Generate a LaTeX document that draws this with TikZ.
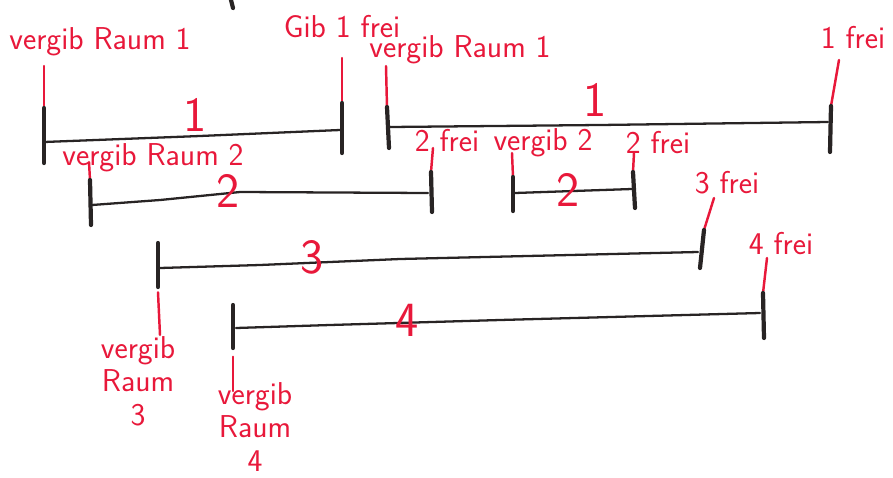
\documentclass[tikz,border=0pt]{standalone}
\usepackage{fontspec}
\definecolor{stiftrot}{RGB}{232,24,58}
\definecolor{stiftschwarz}{RGB}{40,36,36}
\tikzset{
  balken/.style={line width=1.3pt, stiftschwarz, line cap=round},
  strich/.style={line width=2.4pt, stiftschwarz, line cap=round},
  rotstrich/.style={line width=1.4pt, stiftrot, line cap=round},
  notiz/.style={text=stiftrot, font=\sffamily\fontsize{18}{19}\selectfont, inner sep=1pt, align=center},
  ziffer/.style={text=stiftrot, font=\sffamily\fontsize{28}{28}\selectfont, inner sep=0pt}
}
\begin{document}
\begin{tikzpicture}[x=0.02cm,y=-0.02cm]
\useasboundingbox (0,0) rectangle (893,477);

\draw[strich] (231,0) -- (233,8);

% Raum 1 (links)
\coordinate (r1ao) at (44,66);  \coordinate (r1at) at (44,108);  \coordinate (r1au) at (44,163);
\coordinate (r1bo) at (342,58); \coordinate (r1bt) at (342,103); \coordinate (r1bu) at (342,153);
\node[notiz] (vr1a) at (100,42) {vergib Raum 1};
\node[notiz] (gib1) at (342,27) {Gib 1 frei};
\draw[rotstrich] (r1ao) -- (r1at);
\draw[rotstrich] (r1bo) -- (r1bt);
\draw[strich] (r1at) -- (r1au);
\draw[strich] (r1bt) -- (r1bu);
\draw[balken] (44,142) -- (200,136) -- (340,130);
\node[ziffer] (n1a) at (195,115) {1};

% Raum 1 (rechts)
\coordinate (r1co) at (386,66);  \coordinate (r1ct) at (387,107); \coordinate (r1cu) at (389,148);
\coordinate (r1do) at (839,60);  \coordinate (r1dt) at (831,106); \coordinate (r1du) at (830,152);
\node[notiz] (vr1b) at (460,50) {vergib Raum 1};
\node[notiz] (frei1) at (853,38) {1 frei};
\draw[rotstrich] (r1co) -- (r1ct);
\draw[rotstrich] (r1do) -- (r1dt);
\draw[strich] (r1ct) -- (r1cu);
\draw[strich] (r1dt) -- (r1du);
\draw[balken] (390,127) -- (600,125) -- (828,122);
\node[ziffer] (n1b) at (595,100) {1};

% Raum 2 (links)
\coordinate (r2ao) at (89,162);  \coordinate (r2at) at (90,180);  \coordinate (r2au) at (91,225);
\coordinate (r2bo) at (433,148); \coordinate (r2bt) at (431,172); \coordinate (r2bu) at (432,212);
\node[notiz] (vr2) at (153,158) {vergib Raum 2};
\node[notiz] (frei2a) at (447,141) {2 frei};
\draw[rotstrich] (r2ao) -- (r2at);
\draw[rotstrich] (r2bo) -- (r2bt);
\draw[strich] (r2at) -- (r2au);
\draw[strich] (r2bt) -- (r2bu);
\draw[balken] (92,205) -- (160,200) -- (240,192) -- (428,193);
\node[ziffer] (n2a) at (228,191) {2};

% Raum 2 (rechts)
\coordinate (r2co) at (512,153); \coordinate (r2ct) at (513,177); \coordinate (r2cu) at (513,211);
\coordinate (r2do) at (634,153); \coordinate (r2dt) at (633,172); \coordinate (r2du) at (635,208);
\node[notiz] (v2) at (543,143) {vergib 2};
\node[notiz] (frei2b) at (658,143) {2 frei};
\draw[rotstrich] (r2co) -- (r2ct);
\draw[rotstrich] (r2do) -- (r2dt);
\draw[strich] (r2ct) -- (r2cu);
\draw[strich] (r2dt) -- (r2du);
\draw[balken] (515,193) -- (632,189);
\node[ziffer] (n2b) at (568,190) {2};

% Raum 3
\coordinate (r3at) at (158,243); \coordinate (r3au) at (158,287); \coordinate (r3ar) at (160,335);
\coordinate (r3bo) at (714,198); \coordinate (r3bt) at (704,230); \coordinate (r3bu) at (700,268);
\node[notiz] (vr3) at (138,381) {vergib\\Raum\\3};
\node[notiz] (frei3) at (727,183) {3 frei};
\draw[rotstrich] ([yshift=-3]r3au) -- (r3ar);
\draw[rotstrich] (r3bo) -- (r3bt);
\draw[strich] (r3at) -- (r3au);
\draw[strich] (r3bt) -- (r3bu);
\draw[balken] (160,268) -- (260,265) -- (400,259) -- (698,252);
\node[ziffer] (n3) at (312,257) {3};

% Raum 4
\coordinate (r4at) at (233,305); \coordinate (r4au) at (233,348); \coordinate (r4ar) at (233,391);
\coordinate (r4bo) at (767,258); \coordinate (r4bt) at (763,293); \coordinate (r4bu) at (764,338);
\node[notiz] (vr4) at (255,427) {vergib\\Raum\\4};
\node[notiz] (frei4) at (781,244) {4 frei};
\draw[rotstrich] ([yshift=-5]r4au) -- (r4ar);
\draw[rotstrich] (r4bo) -- (r4bt);
\draw[strich] (r4at) -- (r4au);
\draw[strich] (r4bt) -- (r4bu);
\draw[balken] (236,328) -- (330,325) -- (500,320) -- (760,313);
\node[ziffer] (n4) at (407,320) {4};

\end{tikzpicture}
\end{document}
